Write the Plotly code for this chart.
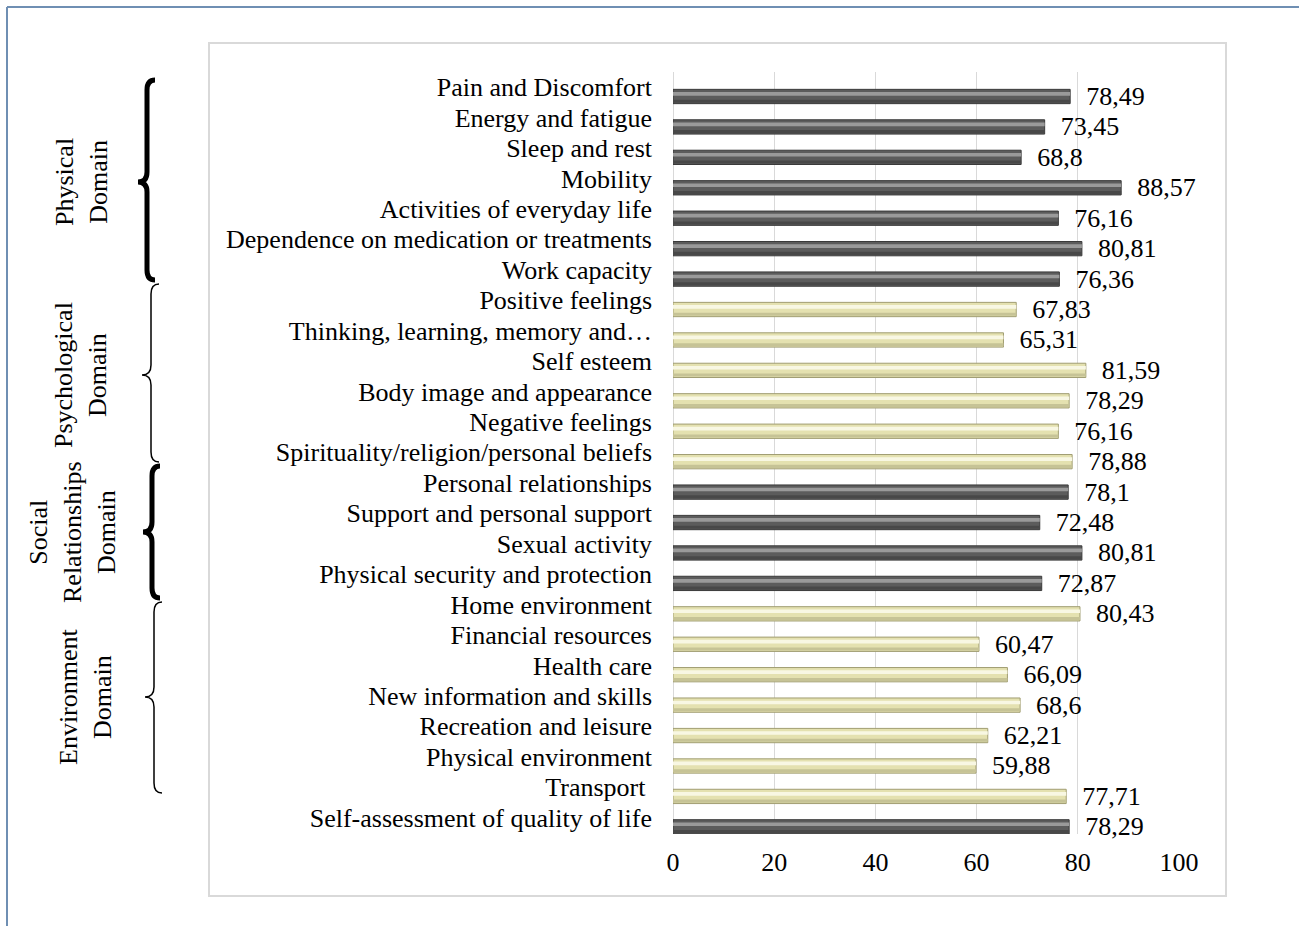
import plotly.graph_objects as go

# ---------------- data ----------------
categories = [
    "Pain and Discomfort",
    "Energy and fatigue",
    "Sleep and rest",
    "Mobility",
    "Activities of everyday life",
    "Dependence on medication or treatments",
    "Work capacity",
    "Positive feelings",
    "Thinking, learning, memory and…",
    "Self esteem",
    "Body image and appearance",
    "Negative feelings",
    "Spirituality/religion/personal beliefs",
    "Personal relationships",
    "Support and personal support",
    "Sexual activity",
    "Physical security and protection",
    "Home environment",
    "Financial resources",
    "Health care",
    "New information and skills",
    "Recreation and leisure",
    "Physical environment",
    "Transport\u00a0",
    "Self-assessment of quality of life",
]
values = [78.49, 73.45, 68.8, 88.57, 76.16, 80.81, 76.36,
          67.83, 65.31, 81.59, 78.29, 76.16, 78.88,
          78.1, 72.48, 80.81, 72.87,
          80.43, 60.47, 66.09, 68.6, 62.21, 59.88, 77.71,
          78.29]
domains = (["Physical"] * 7 + ["Psychological"] * 6 + ["Social"] * 4
           + ["Environment"] * 7 + ["Overall"])
x_ticks = [0, 20, 40, 60, 80, 100]

domain_labels = ["Physical<br>Domain", "Psychological<br>Domain",
                 "Social<br>Relationships<br>Domain", "Environment<br>Domain"]

# ---------------- styles ----------------
FONT = "Liberation Serif"
FS = 26
W, H = 1299, 926
L_PX, R_PX, T_PX, B_PX = 673, 1179, 72, 834
PW, PH = R_PX - L_PX, B_PX - T_PX

dark_groups = {"Physical", "Social", "Overall"}
base_col = ["#5c5c5c" if d in dark_groups else "#e4e1b0" for d in domains]
edge_col = ["#3a3a3a" if d in dark_groups else "#a09d72" for d in domains]
hi_col = ["#9a9a9a" if d in dark_groups else "#f8f7e3" for d in domains]
low_col = ["#484848" if d in dark_groups else "#c6c396" for d in domains]


def px(x):
    return (x - L_PX) / PW


def py(y):
    return (B_PX - y) / PH


def brace(xs, yt, ym, yb, tip=9, e=8, r=10):
    pts = [
        f"M {px(xs + e)},{py(yt)}",
        f"Q {px(xs)},{py(yt)} {px(xs)},{py(yt + r)}",
        f"L {px(xs)},{py(ym - r)}",
        f"Q {px(xs)},{py(ym)} {px(xs - tip)},{py(ym)}",
        f"Q {px(xs)},{py(ym)} {px(xs)},{py(ym + r)}",
        f"L {px(xs)},{py(yb - r)}",
        f"Q {px(xs)},{py(yb)} {px(xs + e)},{py(yb)}",
    ]
    return " ".join(pts)


fig = go.Figure()

# main bar body
fig.add_trace(go.Bar(
    y=categories, x=values, orientation="h",
    width=0.47, offset=0.07,
    marker=dict(color=base_col, line=dict(color=edge_col, width=1)),
    text=["\u00a0\u00a0" + f"{v:g}".replace(".", ",") for v in values],
    textposition="outside",
    textfont=dict(family=FONT, size=FS, color="black"),
    cliponaxis=False, constraintext="none",
    hoverinfo="x+y",
))
# lower shade
fig.add_trace(go.Bar(
    y=categories, x=values, orientation="h",
    width=0.1, offset=0.41,
    marker=dict(color=low_col, line=dict(width=0)),
    hoverinfo="skip",
))
# highlight stripe (bevel look)
fig.add_trace(go.Bar(
    y=categories, x=values, orientation="h",
    width=0.12, offset=0.16,
    marker=dict(color=hi_col, line=dict(width=0)),
    hoverinfo="skip",
))

shapes = [
    # outer blue frame (top and left)
    dict(type="line", xref="paper", yref="paper", x0=px(7), x1=px(1300),
         y0=py(7), y1=py(7), line=dict(color="#6f8fb3", width=2)),
    dict(type="line", xref="paper", yref="paper", x0=px(7), x1=px(7),
         y0=py(7), y1=py(930), line=dict(color="#6f8fb3", width=2)),
    # inner chart border
    dict(type="rect", xref="paper", yref="paper", x0=px(209), x1=px(1226),
         y0=py(43), y1=py(896), line=dict(color="#d9d9d9", width=2),
         layer="below"),
    # braces
    dict(type="path", xref="paper", yref="paper",
         path=brace(147, 80, 182, 280), line=dict(color="black", width=5)),
    dict(type="path", xref="paper", yref="paper",
         path=brace(151, 284, 375, 462), line=dict(color="black", width=1.5)),
    dict(type="path", xref="paper", yref="paper",
         path=brace(152, 466, 532, 598), line=dict(color="black", width=5)),
    dict(type="path", xref="paper", yref="paper",
         path=brace(154, 602, 697, 793), line=dict(color="black", width=1.5)),
]

ann_pos = [(81, 182), (81, 375), (72, 532), (85, 697)]
annotations = []
for txt, (ax, ay) in zip(domain_labels, ann_pos):
    annotations.append(dict(
        text=txt, xref="paper", yref="paper", x=px(ax), y=py(ay),
        xanchor="center", yanchor="middle", textangle=-90, showarrow=False,
        font=dict(family=FONT, size=FS, color="black"), align="center",
    ))

fig.update_layout(
    width=W, height=H,
    margin=dict(l=L_PX, r=W - R_PX, t=T_PX, b=H - B_PX, pad=0),
    paper_bgcolor="white", plot_bgcolor="white",
    barmode="overlay", showlegend=False,
    shapes=shapes, annotations=annotations,
    xaxis=dict(
        range=[0, 100], tickvals=x_ticks, ticktext=[str(t) for t in x_ticks],
        showgrid=True, gridcolor="#d9d9d9", gridwidth=1,
        zeroline=True, zerolinecolor="#d9d9d9", zerolinewidth=1,
        showline=False, ticks="",
        tickfont=dict(family=FONT, size=FS, color="black"),
        ticklabelstandoff=10,
    ),
    yaxis=dict(
        autorange="reversed", showgrid=False, zeroline=False, showline=False,
        tickmode="array", tickvals=categories, ticktext=categories,
        ticks="", tickfont=dict(family=FONT, size=FS, color="black"),
        ticklabelstandoff=20,
    ),
    font=dict(family=FONT, size=FS, color="black"),
)

fig.write_html("out.html")
